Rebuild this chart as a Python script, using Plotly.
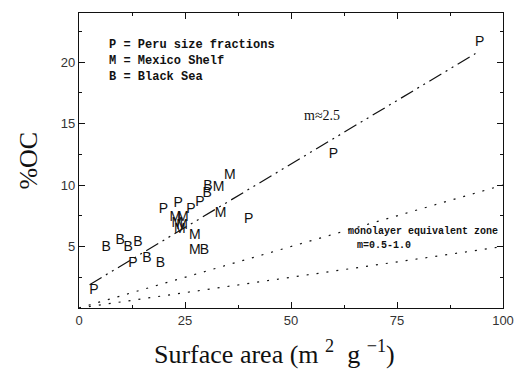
import plotly.graph_objects as go

# Data
peru_x = [3.5, 12.7, 19.9, 23.4, 26.4, 28.5, 40.0, 60.0, 94.5]
peru_y = [1.4, 3.6, 8.0, 8.5, 8.0, 8.6, 7.2, 12.5, 21.6]
mex_x = [22.7, 24.5, 23.2, 24.3, 23.8, 27.3, 33.4, 32.9, 35.6, 27.3]
mex_y = [7.4, 7.4, 6.9, 6.7, 6.4, 5.9, 7.7, 9.8, 10.8, 4.7]
bs_x = [6.4, 9.7, 11.6, 13.9, 16.0, 19.2, 29.6, 30.2, 30.4]
bs_y = [4.9, 5.5, 4.9, 5.3, 4.0, 3.6, 4.7, 9.3, 9.9]

fit_x = [2.5, 93.5]
fit_y = [1.9, 20.7]
mono_lo_x = [0, 100]
mono_lo_y = [0, 5]
mono_hi_x = [0, 100]
mono_hi_y = [0, 10]

legend_lines = ["P = Peru size fractions", "M = Mexico Shelf", "B = Black Sea"]
legend_y = [21.4, 20.1, 18.8]

x_ticks = [0, 25, 50, 75, 100]
y_ticks = [5, 10, 15, 20]

mark_font = dict(family="Liberation Sans, Arial", size=14, color="#111")
fig = go.Figure()
fig.add_trace(go.Scatter(x=fit_x, y=fit_y, mode="lines",
                         line=dict(color="#111", width=1.2, dash="14px,5px,2px,5px,2px,5px")))
fig.add_trace(go.Scatter(x=mono_lo_x, y=mono_lo_y, mode="lines",
                         line=dict(color="#111", width=1.2, dash="2px,8px")))
fig.add_trace(go.Scatter(x=mono_hi_x, y=mono_hi_y, mode="lines",
                         line=dict(color="#111", width=1.2, dash="2px,8px")))
for xs, ys, letter in [(peru_x, peru_y, "P"), (mex_x, mex_y, "M"), (bs_x, bs_y, "B")]:
    fig.add_trace(go.Scatter(x=xs, y=ys, mode="text", text=[letter] * len(xs),
                             textposition="middle center", textfont=mark_font))

mono = dict(family="Liberation Mono, Courier New, monospace", color="#111")
for txt, yy in zip(legend_lines, legend_y):
    fig.add_annotation(x=6.7, y=yy, text="<b>" + txt + "</b>", showarrow=False,
                       xanchor="left", yanchor="middle", font=dict(size=12, **mono))
fig.add_annotation(x=57.2, y=15.7, text="m≈2.5", showarrow=False,
                   xanchor="center", yanchor="middle",
                   font=dict(family="Liberation Serif, Times New Roman, serif", size=14, color="#111"))
fig.add_annotation(x=99.2, y=6.2, text="<b>monolayer equivalent zone</b>", showarrow=False,
                   xanchor="right", yanchor="middle", font=dict(size=10, **mono))
fig.add_annotation(x=65, y=5.1, text="<b>m=0.5-1.0</b>", showarrow=False,
                   xanchor="left", yanchor="middle", font=dict(size=10, **mono))

serif = dict(family="Liberation Serif, Times New Roman, serif", color="#111")
fig.add_annotation(xref="paper", yref="paper", x=0.46, y=-0.15,
                   text="Surface area (m <sup>2</sup>  g <sup>−1</sup>)", showarrow=False,
                   xanchor="center", yanchor="middle", font=dict(size=26, **serif))
fig.add_annotation(xref="paper", yref="paper", x=-0.12, y=0.5, textangle=-90,
                   text="%OC", showarrow=False,
                   xanchor="center", yanchor="middle", font=dict(size=26, **serif))

axis_common = dict(showgrid=False, zeroline=False, showline=True, linecolor="#111",
                   linewidth=1.2, mirror="ticks", ticks="inside", ticklen=6,
                   tickcolor="#111", tickwidth=1, ticklabeloverflow="allow",
                   tickfont=dict(family="Liberation Sans, Arial", size=13, color="#333"))
fig.update_xaxes(range=[0, 100], tickvals=x_ticks, ticktext=[str(v) for v in x_ticks],
                 minor=dict(ticks="inside", dtick=12.5, ticklen=3, tickcolor="#111"),
                 **axis_common)
fig.update_yaxes(range=[0, 24], tickvals=y_ticks, ticktext=[str(v) for v in y_ticks],
                 minor=dict(ticks="inside", dtick=2.5, ticklen=3, tickcolor="#111"),
                 **axis_common)
fig.update_layout(width=523, height=373, margin=dict(l=79, r=9, t=13, b=65),
                  paper_bgcolor="white", plot_bgcolor="white", showlegend=False)
fig.write_html("out.html")
